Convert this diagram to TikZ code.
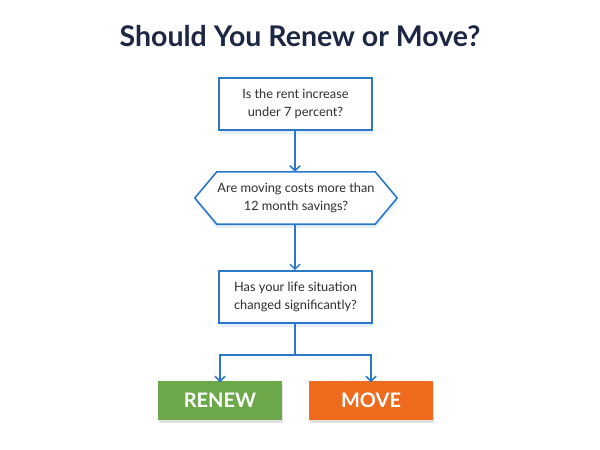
\documentclass[tikz,border=0pt]{standalone}
\usepackage{fontspec}
\setmainfont{Lato}
\usetikzlibrary{arrows.meta,shadows}
\definecolor{flowblue}{HTML}{2B78C9}
\definecolor{titlenavy}{HTML}{1B2744}
\definecolor{txtgray}{HTML}{2E2E2E}
\definecolor{renewgreen}{HTML}{6AA84A}
\definecolor{moveorange}{HTML}{EE6A1C}
\tikzset{
  qbox/.style={draw=flowblue, line width=1.6pt, fill=white, minimum width=153pt, minimum height=52pt,
    align=center, font=\fontsize{12.8}{18}\selectfont, text=txtgray, inner sep=0pt,
    drop shadow={opacity=0.12, fill=flowblue, shadow xshift=1pt, shadow yshift=-4pt}},
  hexbox/.style={minimum width=158pt, minimum height=52pt, align=center,
    font=\fontsize{12.8}{18}\selectfont, text=txtgray, inner sep=0pt},
  ansbox/.style={minimum width=124pt, minimum height=39pt, inner sep=0pt, text=white,
    font=\fontsize{20}{24}\bfseries\selectfont,
    drop shadow={opacity=0.12, fill=black, shadow xshift=1pt, shadow yshift=-3pt}},
  flow/.style={draw=flowblue, line width=1.5pt, -{Straight Barb[length=5pt,width=10pt,line width=1.5pt]}},
  flowline/.style={draw=flowblue, line width=1.5pt}
}
\begin{document}
\begin{tikzpicture}[x=1pt,y=-1pt]
\useasboundingbox (0,0) rectangle (600,450);
\node[font=\fontsize{28.5}{32}\bfseries\selectfont, text=titlenavy] (title) at (300,36) {Should You Renew or Move?};
\node[qbox] (q1) at (295.5,104) {Is the rent increase\\ under 7 percent?};
\node[hexbox] (q2) at (296,198) {};
\fill[flowblue, opacity=0.12] ([shift={(-21pt,-4pt)}]q2.west) -- ([yshift=-4pt]q2.north west) -- ([yshift=-4pt]q2.north east) -- ([shift={(23pt,-4pt)}]q2.east) -- ([yshift=-4pt]q2.south east) -- ([yshift=-4pt]q2.south west) -- cycle;
\filldraw[draw=flowblue, fill=white, line width=1.6pt, line join=miter]
  ([xshift=-22pt]q2.west) -- (q2.north west) -- (q2.north east) -- ([xshift=22pt]q2.east) -- (q2.south east) -- (q2.south west) -- cycle;
\node[hexbox] (q2text) at (q2) {Are moving costs more than\\12 month savings?};
\node[qbox] (q3) at (295.5,297) {Has your life situation\\ changed significantly?};
\node[ansbox, fill=renewgreen] (renew) at (220,400) {RENEW};
\node[ansbox, fill=moveorange] (move) at (371,400) {MOVE};
\coordinate (split) at (295,355);
\draw[flow] (q1.south -| 295,0) -- (q2.north -| 295,0);
\draw[flow] (q2.south -| 295,0) -- (q3.north -| 295,0);
\draw[flowline] (q3.south -| 295,0) -- (split);
\draw[flow] (split) -| ([yshift=-2pt]renew.north);
\draw[flow] (split) -| ([yshift=-2pt]move.north);
\end{tikzpicture}
\end{document}
